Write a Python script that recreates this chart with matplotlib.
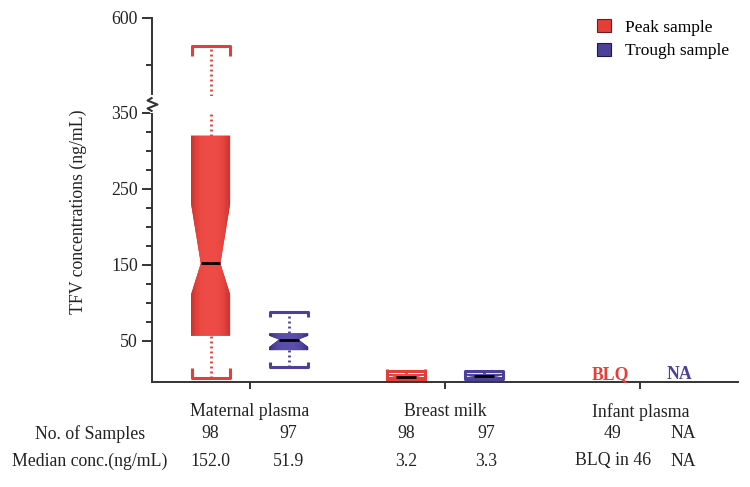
import numpy as np
import matplotlib
matplotlib.use('Agg')
import matplotlib.pyplot as plt
from matplotlib.path import Path
from matplotlib.patches import Patch
from matplotlib.collections import PolyCollection
import matplotlib.transforms as mtransforms
import matplotlib.colors as mcolors

plt.rcParams['font.family'] = ['Liberation Serif', 'DejaVu Serif']

# ---------------- data ----------------
groups = ['Maternal plasma', 'Breast milk', 'Infant plasma']
series = ['Peak sample', 'Trough sample']

peak_whislo = [1.5, 0.4]
peak_q1 = [57.0, 1.5]
peak_med = [152.0, 3.2]
peak_q3 = [320.0, 6.5]
peak_whishi = [526.0, 10.0]
peak_cilo = [111.0, 2.2]
peak_cihi = [231.0, 5.0]

trough_whislo = [16.0, 0.4]
trough_q1 = [38.0, 1.6]
trough_med = [51.9, 3.3]
trough_q3 = [60.0, 6.6]
trough_whishi = [88.0, 10.0]
trough_cilo = [42.0, 2.3]
trough_cihi = [57.0, 5.2]

infant_labels = ['BLQ', 'NA']

row_labels = ['No. of Samples', 'Median conc.(ng/mL)']
n_samples = [['98', '97'], ['98', '97'], ['49', 'NA']]
median_txt = [['152.0', '51.9'], ['3.2', '3.3'], ['BLQ in 46', 'NA']]

yticks_major = [50, 150, 250, 350, 600]
yticks_minor = [75, 100, 125, 175, 200, 225, 275, 300, 325, 475]

BREAK = 350.0

# ---------------- style ----------------
RED = '#e53d38'
RED_EDGE = '#c8302c'
RED_CENTER = '#ef4b46'
BLUE = '#4c4099'
BLUE_EDGE = '#342a7a'
BLUE_CENTER = '#5a4eac'
AXC = '#333333'
FS = 12.8

fig = plt.figure(figsize=(7.5, 4.87), dpi=100)
ax = fig.add_axes([152/750, 1-382/487, (738-152)/750, (382-18)/487])


def fwd(y):
    y = np.asarray(y, dtype=float)
    return np.where(y <= BREAK, y, BREAK + (y - BREAK) * 0.5)


def inv(t):
    t = np.asarray(t, dtype=float)
    return np.where(t <= BREAK, t, BREAK + (t - BREAK) * 2.0)


ax.set_yscale('function', functions=(fwd, inv))
ax.set_ylim(-4, 600)
ax.set_xlim(0.5, 3.5)

width = 0.2
offs = [-0.2, 0.2]


def mkstats(wl, q1, med, q3, wh, cl, ch):
    return [dict(whislo=a, q1=b, med=c, q3=d, whishi=e, cilo=f, cihi=g, fliers=[])
            for a, b, c, d, e, f, g in zip(wl, q1, med, q3, wh, cl, ch)]


peak_stats = mkstats(peak_whislo, peak_q1, peak_med, peak_q3, peak_whishi, peak_cilo, peak_cihi)
trough_stats = mkstats(trough_whislo, trough_q1, trough_med, trough_q3, trough_whishi, trough_cilo, trough_cihi)

dotted = (0, (0.7, 1.1))


def bracket(h):
    verts = [(-1, -h), (-1, 0), (1, 0), (1, -h)]
    codes = [Path.MOVETO, Path.LINETO, Path.LINETO, Path.LINETO]
    return Path(verts, codes)


def bracket_up(h):
    verts = [(-1, h), (-1, 0), (1, 0), (1, h)]
    codes = [Path.MOVETO, Path.LINETO, Path.LINETO, Path.LINETO]
    return Path(verts, codes)


def draw(stats, off, color, edge, center, cap_h):
    pos = [i + 1 + off for i in range(len(stats))]
    res = ax.bxp(stats, positions=pos, widths=width, shownotches=True,
                 patch_artist=True, showcaps=False, showfliers=False,
                 boxprops=dict(facecolor=color, edgecolor='none', linewidth=0),
                 medianprops=dict(color='black', linewidth=2.0, zorder=3),
                 whiskerprops=dict(color=color, linewidth=2.0, linestyle=dotted))
    # gentle gradient shading clipped to the box shape
    c_edge = np.array(mcolors.to_rgb(edge))
    c_cent = np.array(mcolors.to_rgb(center))
    for p, box, st in zip(pos, res['boxes'], stats):
        n = 30
        xs = np.linspace(p - width / 2, p + width / 2, n + 1)
        polys, cols = [], []
        for k in range(n):
            xm = 0.5 * (xs[k] + xs[k + 1])
            t = abs(xm - p) / (width / 2)
            w = t ** 3
            cols.append(c_cent * (1 - w) + c_edge * w)
            polys.append([(xs[k], st['q1'] - 1), (xs[k + 1], st['q1'] - 1),
                          (xs[k + 1], st['q3'] + 1), (xs[k], st['q3'] + 1)])
        pc = PolyCollection(polys, facecolors=cols, edgecolors=cols, linewidths=0.3, zorder=2.05)
        ax.add_collection(pc)
        pc.set_clip_path(box)
        # caps as brackets
        ax.plot([p], [st['whishi']], marker=bracket(cap_h), markersize=28,
                markeredgewidth=2.2, markerfacecolor='none', markeredgecolor=color,
                linestyle='none', zorder=2.3)
        ax.plot([p], [st['whislo']], marker=bracket_up(cap_h), markersize=28,
                markeredgewidth=2.2, markerfacecolor='none', markeredgecolor=color,
                linestyle='none', zorder=2.3)
    return res


draw(peak_stats, offs[0], RED, RED_EDGE, RED_CENTER, 0.5)
draw(trough_stats, offs[1], BLUE, BLUE_EDGE, BLUE_CENTER, 0.28)

# infant plasma: no boxes
ax.text(3 - 0.155, 0, infant_labels[0], color=RED, fontweight='bold', ha='center',
        va='baseline', fontsize=FS)
ax.text(3 + 0.2, 0, infant_labels[1], color=BLUE, fontweight='bold', ha='center',
        va='baseline', fontsize=FS)

# axis break: white gap in whiskers and spine, plus zigzag
ax.axhspan(352, 395, color='white', zorder=2.2, linewidth=0)
bl = mtransforms.blended_transform_factory(ax.transAxes, ax.transData)
ax.plot([0, 0], [355, 392], transform=bl, color='white', linewidth=3, clip_on=False, zorder=3)
zz = Path([(0, 7), (-5, 4), (5, 0), (-5, -4), (0, -7)],
          [Path.MOVETO, Path.LINETO, Path.LINETO, Path.LINETO, Path.LINETO])
ax.plot([0], [373], transform=bl, marker=zz, markersize=10, markeredgewidth=1.5,
        markerfacecolor='none', markeredgecolor=AXC, linestyle='none', clip_on=False, zorder=4)

# spines and ticks
for s in ['top', 'right']:
    ax.spines[s].set_visible(False)
for s in ['left', 'bottom']:
    ax.spines[s].set_color(AXC)
    ax.spines[s].set_linewidth(1.4)

ax.set_yticks(yticks_major)
ax.set_yticklabels([str(v) for v in yticks_major])
ax.set_yticks(yticks_minor, minor=True)
ax.tick_params(axis='y', which='major', length=7, width=1.4, color=AXC, labelsize=FS,
               labelcolor='#222222', pad=3)
ax.tick_params(axis='y', which='minor', length=4, width=1.4, color=AXC)

ax.set_xticks([1, 2, 3])
ax.set_xticklabels(groups)
ax.tick_params(axis='x', which='major', length=5, width=1.4, color=AXC, labelsize=FS,
               labelcolor='#222222', pad=10)
ax.tick_params(axis='x', which='minor', length=0)

fig.text(78/750, 1-212/487, 'TFV concentrations (ng/mL)', rotation=90, ha='center',
         va='center', fontsize=FS, color='#222222')

# legend
handles = [Patch(facecolor=RED, edgecolor='#6a1e1e', linewidth=0.8),
           Patch(facecolor=BLUE, edgecolor='#1e1850', linewidth=0.8)]
fig.legend(handles, series, loc='upper left', bbox_to_anchor=(597/750, 1-19/487),
           frameon=False, fontsize=12.5, handlelength=0.8, handleheight=0.8,
           handletextpad=0.8, labelspacing=0.4, borderpad=0, borderaxespad=0)

# table rows beneath the axis
tr = mtransforms.blended_transform_factory(ax.transData, fig.transFigure)
row_y = [1-434/487, 1-461/487]
col_offs = [[-0.2, 0.2], [-0.2, 0.21], [-0.14, 0.22]]
for r, rows in enumerate([n_samples, median_txt]):
    fig.text(90/750, row_y[r], row_labels[r], ha='center', va='center', fontsize=FS,
             color='#222222')
    for i, vals in enumerate(rows):
        for j, v in enumerate(vals):
            ax.text(i + 1 + col_offs[i][j], row_y[r], v, transform=tr, ha='center',
                    va='center', fontsize=FS, color='#222222', clip_on=False)

fig.savefig('out.png', dpi=100)
